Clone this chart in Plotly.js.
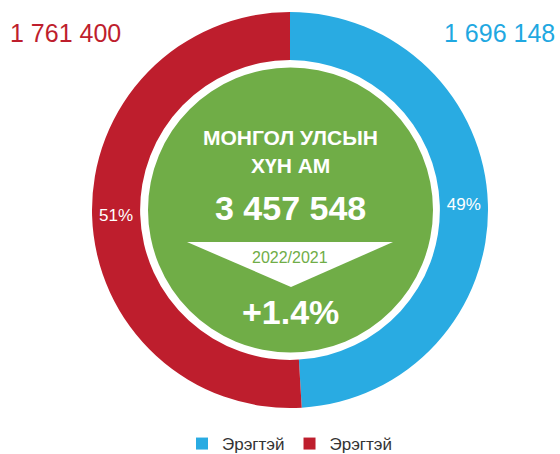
<!DOCTYPE html>
<html>
<head>
<meta charset="utf-8">
<script src="https://cdn.plot.ly/plotly-3.0.1.min.js"></script>
<style>html,body{margin:0;padding:0;background:#fff;}#chart{width:560px;height:454px;}</style>
</head>
<body>
<div id="chart"></div>
<script>
// Data
const categories = ['Эрэгтэй', 'Эрэгтэй'];
const population = [1696148, 1761400];
const sliceColors = ['#29ABE2', '#BE1E2D'];
const totalLabel = '3 457 548';
const titleLines = ['МОНГОЛ УЛСЫН', 'ХҮН АМ'];
const periodLabel = '2022/2021';
const changeLabel = '+1.4%';
const cornerLabels = ['1 761 400', '1 696 148'];

const W = 560, H = 454;
const px = x => x / W;
const py = y => 1 - y / H;
const FONT = 'Liberation Sans, Arial, sans-serif';

// make labels unique keys while displaying the same text
const keys = categories.map((c, i) => c + ' '.repeat(i));

const trace = {
  type: 'pie',
  labels: keys,
  values: population,
  marker: {colors: sliceColors, line: {width: 0}},
  sort: false,
  direction: 'clockwise',
  rotation: 0,
  hole: 0.757,
  texttemplate: '%{percent:.0%}',
  textposition: 'inside',
  insidetextorientation: 'horizontal',
  textfont: {family: FONT, size: 17, color: '#ffffff'},
  hoverinfo: 'none',
  domain: {x: [px(290 - 198), px(290 + 198)], y: [py(408), py(12)]}
};

const annotations = [
  {text: cornerLabels[0], x: px(8), y: py(33), xanchor: 'left', yanchor: 'middle',
   font: {family: FONT, size: 25, color: '#BE1E2D'}},
  {text: cornerLabels[1], x: px(557), y: py(33), xanchor: 'right', yanchor: 'middle',
   font: {family: FONT, size: 25, color: '#1FA8E1'}},
  {text: '<b>' + titleLines[0] + '</b>', x: px(290), y: py(137), yanchor: 'middle',
   font: {family: FONT, size: 21, color: '#ffffff'}},
  {text: '<b>' + titleLines[1] + '</b>', x: px(290), y: py(165), yanchor: 'middle',
   font: {family: FONT, size: 21, color: '#ffffff'}},
  {text: '<b>' + totalLabel + '</b>', x: px(290), y: py(208), yanchor: 'middle',
   font: {family: FONT, size: 34, color: '#ffffff'}},
  {text: periodLabel, x: px(290), y: py(257), yanchor: 'middle',
   font: {family: FONT, size: 16, color: '#70AD47'}},
  {text: '<b>' + changeLabel + '</b>', x: px(290), y: py(312), yanchor: 'middle',
   font: {family: FONT, size: 34, color: '#ffffff'}}
].map(a => Object.assign({xref: 'paper', yref: 'paper', showarrow: false, xanchor: 'center'}, a));

const shapes = [
  {type: 'circle', xref: 'paper', yref: 'paper',
   x0: px(290.5 - 142.5), x1: px(290.5 + 142.5), y0: py(352.5), y1: py(67.5),
   fillcolor: '#70AD47', line: {width: 0}, layer: 'below'},
  {type: 'path', xref: 'paper', yref: 'paper',
   path: `M ${px(187)} ${py(242)} L ${px(393)} ${py(242)} L ${px(291)} ${py(287)} Z`,
   fillcolor: '#ffffff', line: {width: 0}, layer: 'above'}
];

const layout = {
  width: W, height: H,
  margin: {l: 0, r: 0, t: 0, b: 0, autoexpand: false},
  paper_bgcolor: '#ffffff',
  plot_bgcolor: '#ffffff',
  showlegend: true,
  legend: {orientation: 'h', x: px(292), xanchor: 'center', y: py(444), yanchor: 'middle',
           font: {family: FONT, size: 17, color: '#333333'}, traceorder: 'normal',
           itemclick: false, itemdoubleclick: false},
  annotations: annotations,
  shapes: shapes
};

Plotly.newPlot('chart', [trace], layout, {displayModeBar: false, staticPlot: true});
</script>
</body>
</html>
